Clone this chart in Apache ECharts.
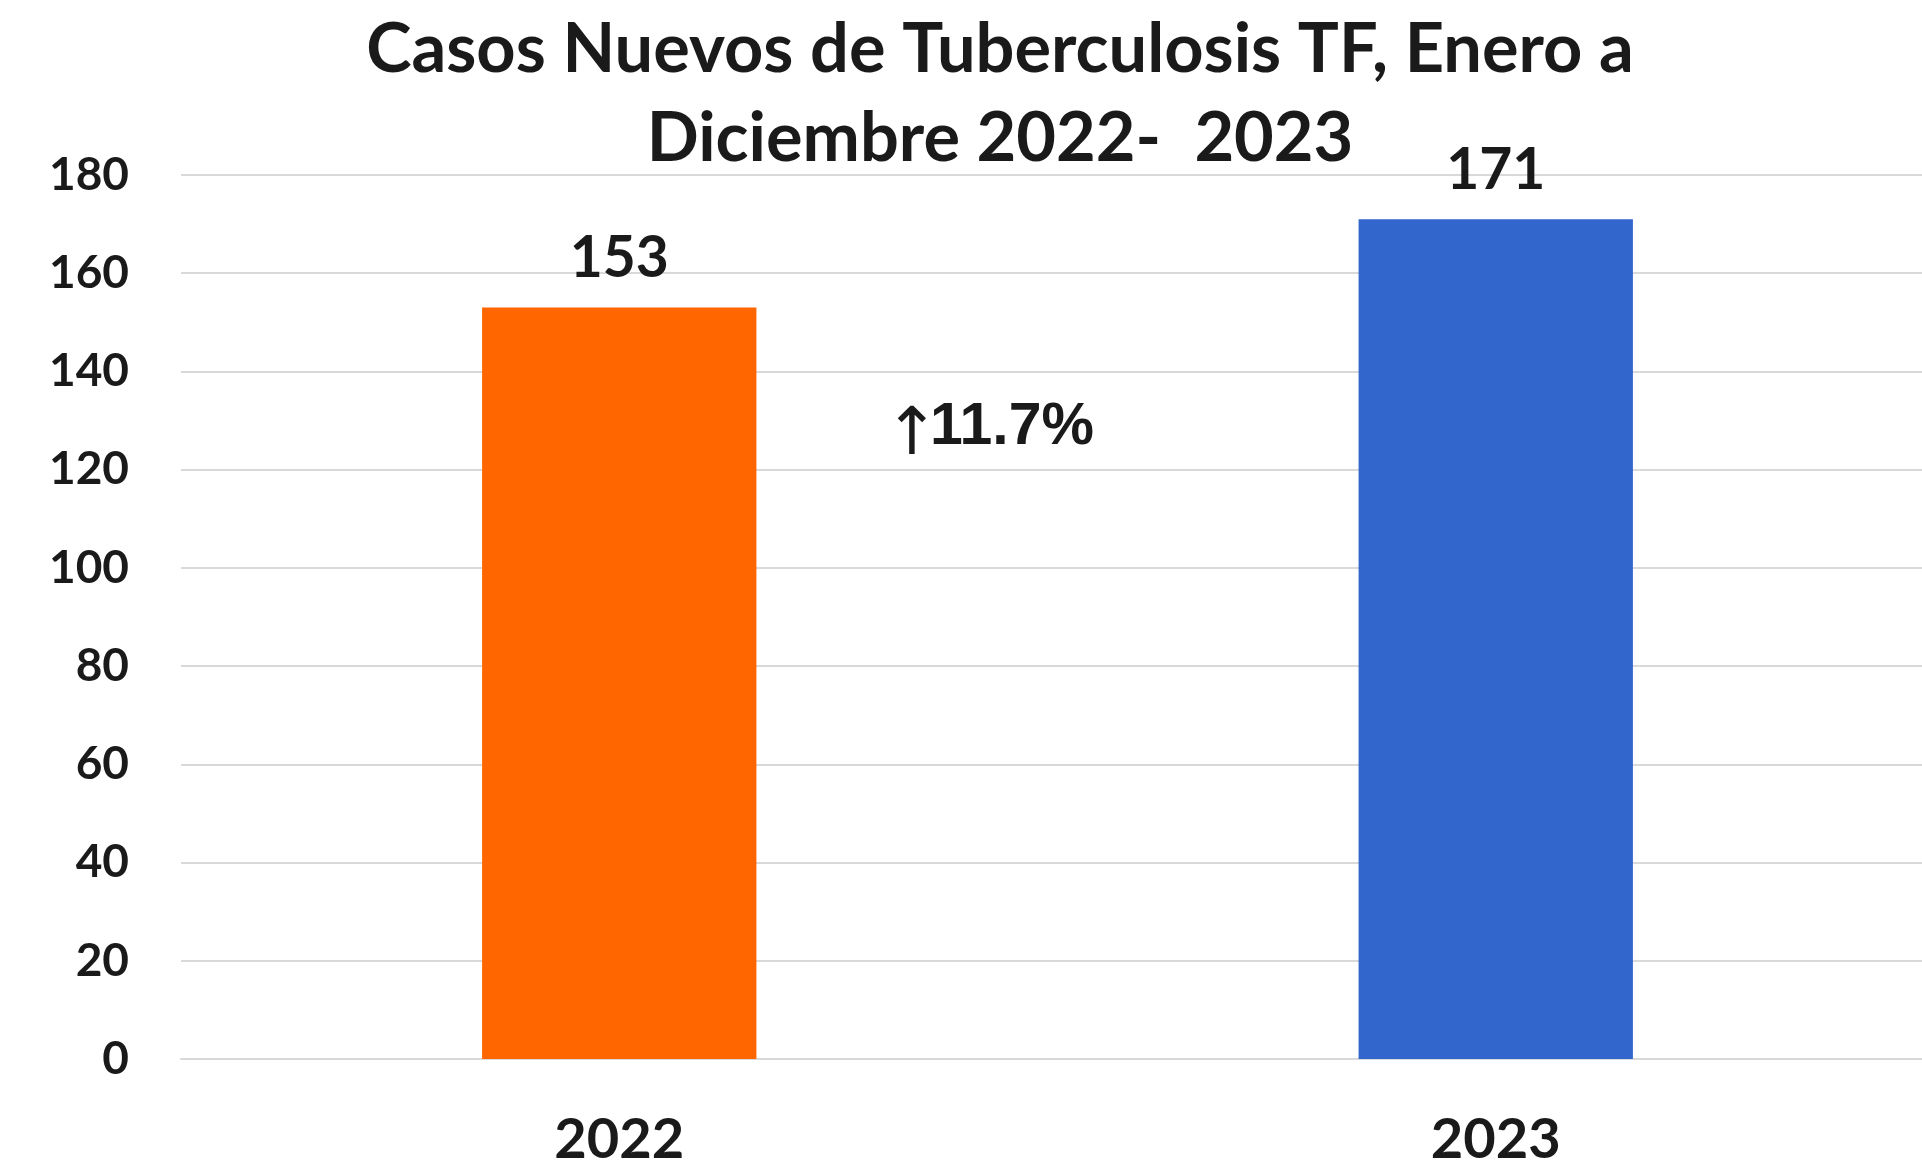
<!DOCTYPE html>
<html lang="es">
<head>
    <meta charset="UTF-8">
    <title>Casos Nuevos de Tuberculosis TF</title>
    <script src="https://cdn.jsdelivr.net/npm/echarts@6/dist/echarts.min.js"></script>
    <style>
        html, body { margin: 0; padding: 0; background: #fff; }
        #main { width: 1922px; height: 1165px; }
    </style>
</head>
<body>
<div id="main"></div>
<script type="text/javascript">
    // datos
    var years = ['2022', '2023'];
    var casos = [153, 171];
    var colores = ['#FF6600', '#3366CC'];
    var variacion = '11.7%';

    var chart = echarts.init(document.getElementById('main'));
    var fuente = 'Lato, "Open Sans", sans-serif';
    var arial = '"Liberation Sans", Arial, sans-serif';

    chart.setOption({
        animation: false,
        title: {
            text: 'Casos Nuevos de Tuberculosis TF, Enero a\nDiciembre 2022-  2023',
            left: 995,
            top: 0,
            textAlign: 'center',
            textStyle: {
                fontFamily: fuente,
                fontWeight: 'bold',
                fontSize: 68.5,
                lineHeight: 89,
                color: '#1a1a1a'
            }
        },
        grid: {
            left: 181,
            right: -12,
            top: 175,
            bottom: 106,
            containLabel: false,
            outerBoundsMode: 'none'
        },
        xAxis: {
            type: 'category',
            data: years,
            axisLine: { lineStyle: { color: '#d9d9d9', width: 2 } },
            axisTick: { show: false },
            axisLabel: {
                margin: 53,
                fontFamily: fuente,
                fontWeight: 'bold',
                fontSize: 56,
                color: '#1a1a1a'
            }
        },
        yAxis: {
            type: 'value',
            min: 0,
            max: 180,
            interval: 20,
            axisLine: { show: false },
            axisTick: { show: false },
            splitLine: { lineStyle: { color: '#d9d9d9', width: 2 } },
            axisLabel: {
                margin: 52,
                fontFamily: fuente,
                fontWeight: 'bold',
                fontSize: 46,
                color: '#1a1a1a'
            }
        },
        series: [{
            type: 'bar',
            barWidth: '31.3%',
            data: casos.map(function (v, i) {
                return { value: v, itemStyle: { color: colores[i] } };
            }),
            label: {
                show: true,
                position: 'top',
                distance: 20,
                fontFamily: fuente,
                fontWeight: 'bold',
                fontSize: 57,
                color: '#1a1a1a'
            }
        }],
        graphic: [{
            type: 'text',
            x: 912,
            y: 404,
            style: {
                text: '↑',
                align: 'center',
                verticalAlign: 'top',
                fontFamily: '"DejaVu Sans", sans-serif',
                fontSize: 66,
                fill: '#1a1a1a'
            }
        }, {
            type: 'text',
            x: 930,
            y: 398,
            style: {
                text: variacion,
                verticalAlign: 'top',
                fontFamily: arial,
                fontWeight: 'bold',
                fontSize: 59,
                fill: '#1a1a1a'
            }
        }]
    });
</script>
</body>
</html>
